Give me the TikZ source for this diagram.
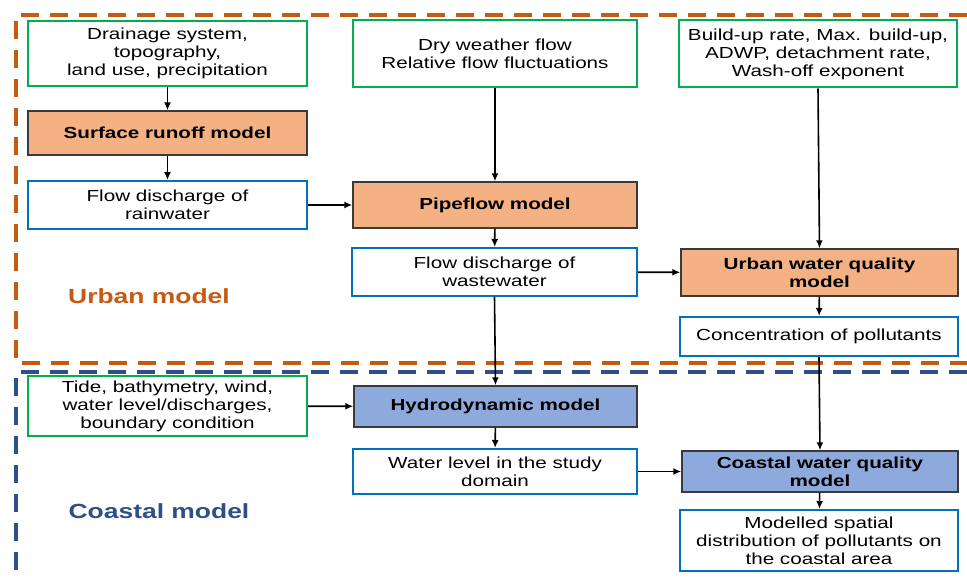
\documentclass[tikz,border=0pt]{standalone}
\usepackage{fontspec}
\setmainfont{Liberation Sans}[FakeStretch=1.29]
\definecolor{InputGreen}{HTML}{00B050}
\definecolor{OutputBlue}{HTML}{0070C0}
\definecolor{ModelOrange}{HTML}{F4B183}
\definecolor{ModelBlue}{HTML}{8EA9DB}
\definecolor{UrbanOrange}{HTML}{C55A11}
\definecolor{CoastNavy}{HTML}{2F4F8A}
\definecolor{EdgeGrey}{HTML}{3A3A3A}
\usepackage{tikz}
\usetikzlibrary{positioning, arrows.meta, calc}
\usepackage{xcolor}

\tikzset{
  inbox/.style={draw=InputGreen, line width=2pt, fill=white, align=center,
    minimum height=#1, inner sep=2pt},
  outbox/.style={draw=OutputBlue, line width=2pt, fill=white, align=center,
    minimum height=#1, inner sep=2pt},
  urbanmodel/.style={draw=EdgeGrey, line width=1.4pt, fill=ModelOrange, align=center,
    minimum height=#1, font=\fontsize{16}{18}\selectfont\bfseries},
  coastmodel/.style={draw=EdgeGrey, line width=1.4pt, fill=ModelBlue, align=center,
    minimum height=#1, font=\fontsize{16}{18}\selectfont\bfseries},
  flow/.style={-{Latex[length=8pt,width=7pt]}, line width=1.6pt},
  zone/.style={line width=3.5pt, dash pattern=on 18pt off 11pt},
}

\begin{document}
\begin{tikzpicture}[x=1pt, y=-1pt, font=\fontsize{16}{18}\selectfont]
  \useasboundingbox (0,0) rectangle (967,578);

  % model zones
  \draw[zone, UrbanOrange] (967,15) -| (16,363) -- (967,363);
  \draw[zone, CoastNavy] (967,372) -| (16,578);
  \node[text=UrbanOrange, font=\fontsize{20.5}{24}\selectfont\bfseries] (urbanlbl) at (149,296) {Urban model};
  \node[text=CoastNavy, font=\fontsize{20.5}{24}\selectfont\bfseries] (coastlbl) at (159,511) {Coastal model};

  % urban column 1
  \node[inbox=65pt, minimum width=279pt] (drain) at (167.5,53.5) {Drainage system,\\topography,\\land use, precipitation};
  \node[urbanmodel=44pt, minimum width=279pt] (runoff) at (167.5,133) {Surface runoff model};
  \node[outbox=48pt, minimum width=279pt] (rain) at (167.5,205) {Flow discharge of\\rainwater};

  % urban column 2
  \node[inbox=67pt, minimum width=284pt] (dry) at (495,54) {Dry weather flow\\Relative flow fluctuations};
  \node[urbanmodel=46pt, minimum width=284pt] (pipe) at (495,205) {Pipeflow model};
  \node[outbox=48pt, minimum width=285pt] (waste) at (494.5,272) {Flow discharge of\\wastewater};

  % urban column 3
  \node[inbox=67pt, minimum width=278pt] (buildup) at (818,54) {Build-up rate, Max. build-up,\\ADWP, detachment rate,\\Wash-off exponent};
  \node[urbanmodel=47pt, minimum width=277pt] (uwq) at (819.5,272.5) {Urban water quality\\model};
  \node[outbox=39pt, minimum width=278pt] (conc) at (819,336.5) {Concentration of pollutants};

  % coastal
  \node[inbox=60pt, minimum width=279pt] (tide) at (167.5,406) {Tide, bathymetry, wind,\\water level/discharges,\\boundary condition};
  \node[coastmodel=41pt, minimum width=283pt] (hydro) at (495.5,406.5) {Hydrodynamic model};
  \node[outbox=45pt, minimum width=284pt] (wlevel) at (495,471.5) {Water level in the study\\domain};
  \node[coastmodel=41pt, minimum width=276pt] (cwq) at (820,471.5) {Coastal water quality\\model};
  \node[outbox=61pt, minimum width=278pt] (spatial) at (819,540.5) {Modelled spatial\\distribution of pollutants on\\the coastal area};

  % connectors
  \draw[flow] (drain) -- (runoff);
  \draw[flow] (runoff) -- (rain);
  \draw[flow] (rain) -- (pipe);
  \draw[flow] (dry.south) -- (pipe.north);
  \draw[flow] (pipe) -- (waste);
  \draw[flow] (waste) -- (uwq);
  \draw[flow] (buildup.south) -- (uwq.north);
  \draw[flow] (uwq) -- (conc);
  \draw[flow] (waste.south) -- (hydro.north);
  \draw[flow] (tide) -- (hydro);
  \draw[flow] (hydro) -- (wlevel);
  \draw[flow] (wlevel) -- (cwq);
  \draw[flow] (conc.south) -- (cwq.north);
  \draw[flow] (cwq) -- (spatial);
\end{tikzpicture}
\end{document}
